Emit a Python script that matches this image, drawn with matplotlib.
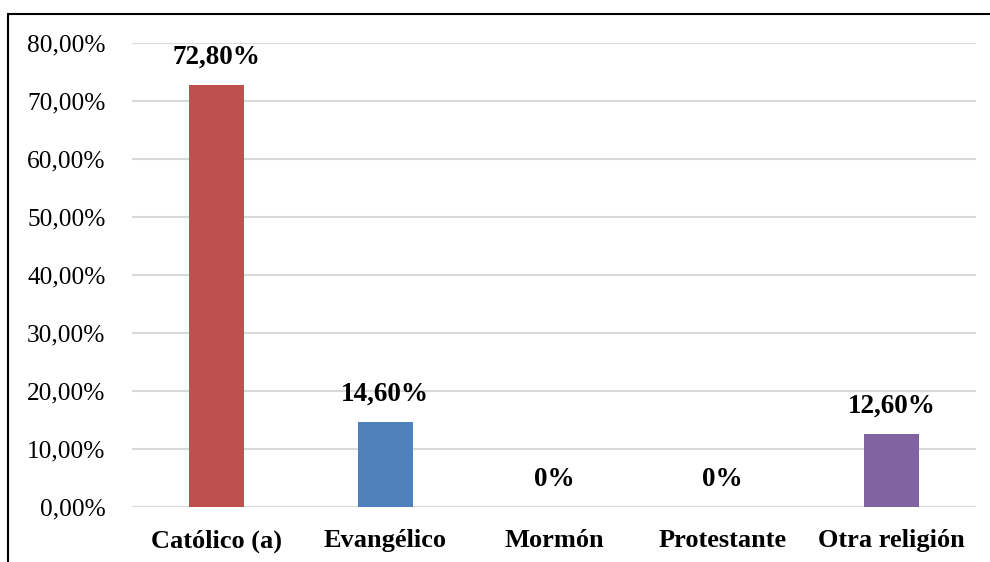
import matplotlib.pyplot as plt
from matplotlib.patches import Rectangle
from matplotlib.ticker import FuncFormatter

categories = ["Católico (a)", "Evangélico", "Mormón", "Protestante", "Otra religión"]
values = [72.8, 14.6, 0.0, 0.0, 12.6]
value_labels = ["72,80%", "14,60%", "0%", "0%", "12,60%"]
colors = ["#C0504D", "#4F81BD", "#8064A2", "#8064A2", "#8064A2"]
yticks = [0, 10, 20, 30, 40, 50, 60, 70, 80]

plt.rcParams["font.family"] = ["Liberation Serif", "DejaVu Serif"]

W, H = 990, 562
fig = plt.figure(figsize=(W / 100, H / 100), dpi=100)
ax = fig.add_axes([132 / W, 1 - 507 / H, (976 - 132) / W, (507 - 43) / H])

x = range(len(categories))
ax.bar(x, values, width=0.325, color=colors, zorder=3)
for xi, v, lab in zip(x, values, value_labels):
    ax.annotate(lab, (xi, v), xytext=(0, 11), textcoords="offset points",
                ha="center", va="bottom", fontsize=19.5, fontweight="bold")

ax.set_xlim(-0.5, len(categories) - 0.5)
ax.set_ylim(0, 80)
ax.set_yticks(yticks)
ax.yaxis.set_major_formatter(FuncFormatter(lambda v, p: f"{v:.2f}".replace(".", ",") + "%"))
ax.set_xticks(list(x))
ax.set_xticklabels(categories, fontsize=19, fontweight="bold")
ax.tick_params(axis="y", length=0, pad=19, labelsize=18.3)
ax.tick_params(axis="x", length=0, pad=16)
ax.grid(axis="y", color="#D9D9D9", linewidth=1.5, zorder=0)
for s in ax.spines.values():
    s.set_visible(False)

# outer frame, running off the right and bottom edges
fig.patches.append(Rectangle((8 / W, -0.1), 1.1, 1.1 - 14 / H, transform=fig.transFigure,
                             fill=False, edgecolor="black", linewidth=1.5))

fig.savefig("out.png", dpi=100)
